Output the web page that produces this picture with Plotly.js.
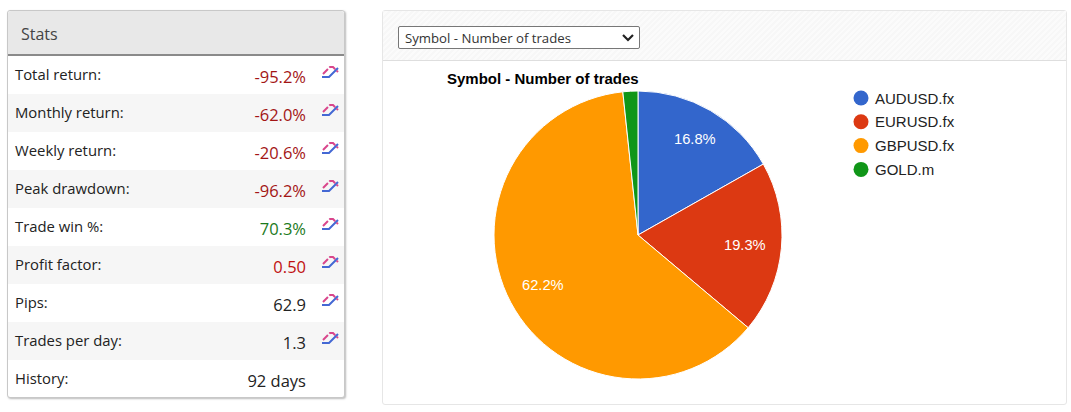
<!DOCTYPE html>
<html><head><meta charset="utf-8">
<script src="https://cdn.plot.ly/plotly-3.0.1.min.js"></script>
<style>
html,body{margin:0;padding:0;width:1071px;height:412px;overflow:hidden;background:#fff;font-family:"Open Sans",sans-serif}
#stats{position:absolute;left:7px;top:10px;width:336px;height:386px;border:1px solid #c8c8c8;border-radius:3px;box-shadow:1px 1px 2px #bbb;background:#fff}
#stats .hd{height:43px;line-height:46px;background:#e8e8e8;border-bottom:2px solid #8a8a8a;padding-left:13px;font-size:16px;color:#444;border-radius:3px 3px 0 0}
.row{position:absolute;left:0;width:336px;height:38px}
.row.alt{background:#f6f6f6}
.row .l{position:absolute;left:7px;top:8px;font-size:14.85px;line-height:20px;color:#222}
.row .v{position:absolute;right:38px;top:10px;font-size:16.5px;line-height:22px;color:#222}
.row svg{position:absolute;left:312px;top:7px}
#right{position:absolute;left:382px;top:10px;width:683px;height:393px;border:1px solid #e6e6e6;border-radius:3px;background:#fff}
#right .hd{height:49px;border-bottom:1px solid #dedede;background:repeating-linear-gradient(135deg,#f7f7f7 0,#f7f7f7 2px,#fbfbfb 2px,#fbfbfb 4px)}
#sel{position:absolute;left:15px;top:15px;width:242px;height:23px;font-family:"Open Sans",sans-serif;font-size:13.2px;color:#333;border:1px solid #777;border-radius:2px;padding:0 0 0 6px;appearance:none;-webkit-appearance:none;background:#fff url("data:image/svg+xml,%3Csvg xmlns='http://www.w3.org/2000/svg' width='14' height='10'%3E%3Cpath d='M2 2 L7 7 L12 2' fill='none' stroke='%23222' stroke-width='2.2'/%3E%3C/svg%3E") no-repeat right 4px center}
#chart{position:absolute;left:0;top:0;width:1071px;height:412px;pointer-events:none}
</style></head><body>
<div id="stats"><div class="hd">Stats</div></div>
<div id="right"><div class="hd"><select id="sel"></select></div></div>
<div id="chart"></div>
<script>
var statLabels=["Total return:","Monthly return:","Weekly return:","Peak drawdown:","Trade win %:","Profit factor:","Pips:","Trades per day:","History:"];
var statValues=["-95.2%","-62.0%","-20.6%","-96.2%","70.3%","0.50","62.9","1.3","92 days"];
var statColors=["#a31515","#a31515","#a31515","#a31515","#1c7a1c","#c01010","#222","#222","#222"];
var statIcons=[true,true,true,true,true,true,true,true,false];

var symbols=["AUDUSD.fx","EURUSD.fx","GBPUSD.fx","GOLD.m"];
var trades=[20,23,74,2];
var sliceColors=["#3366cc","#dc3912","#ff9900","#109618"];
var shownPercent=[true,true,true,false];
var labelCenters=[[694.5,139],[745,245],[543,285]];
var chartTitle="Symbol - Number of trades";

var panel=document.getElementById("stats");
statLabels.forEach(function(t,i){
  var r=document.createElement("div");
  r.className="row"+(i%2?" alt":"");
  r.style.top=(45+i*38)+"px";
  var icon=statIcons[i]?'<svg width="20" height="16" viewBox="0 0 20 16"><path d="M2 14 H9 L18 5" fill="none" stroke="#4468d4" stroke-width="2"/><path d="M3 11 L10 4 L13 4 L18 9" fill="none" stroke="#d9468c" stroke-width="2" stroke-dasharray="7 2"/></svg>':'';
  r.innerHTML='<span class="l">'+t+'</span><span class="v" style="color:'+statColors[i]+'">'+statValues[i]+'</span>'+icon;
  panel.appendChild(r);
});
var s=document.getElementById("sel");
var o=document.createElement("option");o.textContent=chartTitle;s.appendChild(o);

var W=1071,H=412,cx=638,cy=235,R=144;
var total=trades.reduce(function(a,b){return a+b},0);
var shapes=[],ann=[];
symbols.forEach(function(n,i){
  var y=98+i*23.8;
  shapes.push({type:"circle",xref:"paper",yref:"paper",x0:853.5/W,x1:868.5/W,y0:1-(y+7.5)/H,y1:1-(y-7.5)/H,fillcolor:sliceColors[i],line:{width:0}});
  ann.push({xref:"paper",yref:"paper",x:873/W,y:1-y/H,xanchor:"left",yanchor:"middle",showarrow:false,text:n,font:{family:"Liberation Sans, Arial",size:15,color:"#222"}});
  if(shownPercent[i]) ann.push({xref:"paper",yref:"paper",x:labelCenters[i][0]/W,y:1-labelCenters[i][1]/H,xanchor:"center",yanchor:"middle",showarrow:false,text:(trades[i]/total*100).toFixed(1)+"%",font:{family:"Liberation Sans, Arial",size:14.7,color:"#fff"}});
});
Plotly.newPlot("chart",[{
  type:"pie",labels:symbols,values:trades,sort:false,direction:"clockwise",rotation:0,
  marker:{colors:sliceColors,line:{color:"#fff",width:1}},
  textinfo:"none",showlegend:false,hoverinfo:"none",
  domain:{x:[(cx-R)/W,(cx+R)/W],y:[1-(cy+R)/H,1-(cy-R)/H]}
}],{
  width:W,height:H,margin:{l:0,r:0,t:0,b:0,pad:0},paper_bgcolor:"rgba(0,0,0,0)",plot_bgcolor:"rgba(0,0,0,0)",
  title:{text:"<b>"+chartTitle+"</b>",x:447/W,xref:"paper",xanchor:"left",y:1-79/H,yref:"paper",yanchor:"middle",font:{family:"Liberation Sans, Arial",size:15,color:"#000"}},
  shapes:shapes,annotations:ann
},{displayModeBar:false,staticPlot:true});
</script></body></html>
